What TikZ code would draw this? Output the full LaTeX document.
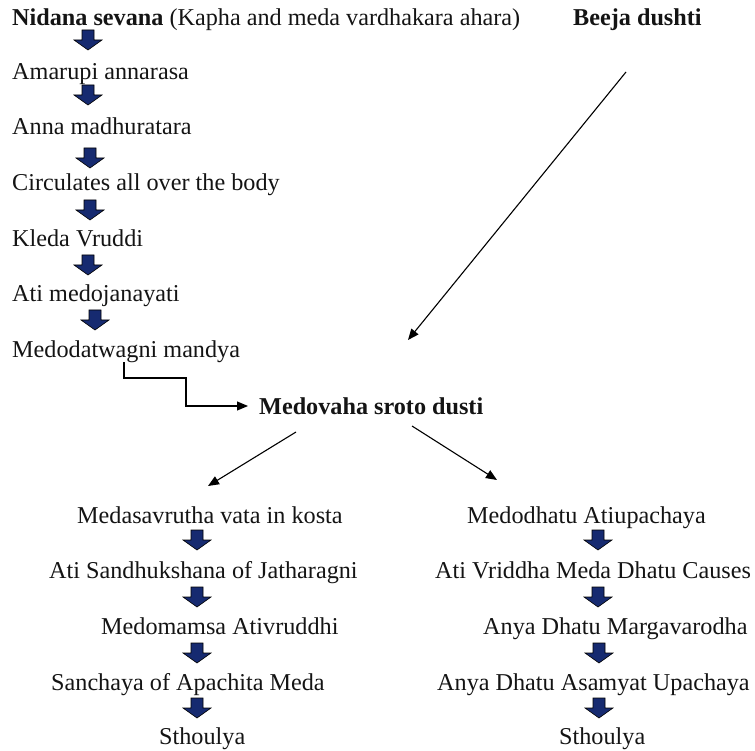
\documentclass[tikz,border=0pt]{standalone}
\usepackage{fontspec}
\setmainfont{Liberation Serif}
\usetikzlibrary{arrows.meta}
\definecolor{navyfill}{RGB}{22,42,112}
\definecolor{txt}{RGB}{20,20,20}
\tikzset{
  lbl/.style={anchor=base west, inner sep=0pt, text=txt, font=\fontsize{24.2}{28}\selectfont},
  blbl/.style={lbl, font=\fontsize{24.2}{28}\selectfont\bfseries},
  conn/.style={draw=black, line width=1.1pt, -{Triangle[length=11pt,width=9pt]}},
  blockarrow/.pic={\filldraw[fill=navyfill, draw=black, line width=0.6pt]
     (-6,-10) -- (6,-10) -- (6,0) -- (14,0) -- (0,10) -- (-14,0) -- (-6,0) -- cycle;}
}
\begin{document}
\begin{tikzpicture}[x=1pt,y=-1pt]
\useasboundingbox (0,0) rectangle (755,751);
% left chain
\node[lbl] (n1) at (12,26) {\textbf{Nidana sevana} (Kapha and meda vardhakara ahara)};
\node[blbl] (beeja) at (573,26) {Beeja dushti};
\node[lbl] (n2) at (12,80) {Amarupi annarasa};
\node[lbl] (n3) at (12,135) {Anna madhuratara};
\node[lbl] (n4) at (12,191) {Circulates all over the body};
\node[lbl] (n5) at (12,247) {Kleda Vruddi};
\node[lbl] (n6) at (12,302) {Ati medojanayati};
\node[lbl] (n7) at (12,357) {Medodatwagni mandya};
\pic at (88,40) {blockarrow};
\pic at (88,95) {blockarrow};
\pic at (90,158) {blockarrow};
\pic at (90,210) {blockarrow};
\pic at (88,265) {blockarrow};
\pic at (95,320) {blockarrow};
% centre
\node[blbl] (mv) at (259,414) {Medovaha sroto dusti};
\coordinate (e0) at (124,362);
\draw[conn] (e0) -- (124,378) -- (186,378) -- (186,406) -- ([xshift=-11pt]mv.west |- 0,406);
\coordinate (b0) at (626,72);
\coordinate (b1) at (408,340);
\draw[conn] (b0) -- (b1);
\coordinate (l0) at (296,432);
\coordinate (l1) at (208,486);
\draw[conn] (l0) -- (l1);
\coordinate (r0) at (412,426);
\coordinate (r1) at (497,480);
\draw[conn] (r0) -- (r1);
% left column
\node[lbl] (a1) at (77,523) {Medasavrutha vata in kosta};
\node[lbl] (a2) at (49,578) {Ati Sandhukshana of Jatharagni};
\node[lbl] (a3) at (101,634) {Medomamsa Ativruddhi};
\node[lbl] (a4) at (51,690) {Sanchaya of Apachita Meda};
\node[lbl] (a5) at (159,744) {Sthoulya};
\pic at (197,540) {blockarrow};
\pic at (197,597) {blockarrow};
\pic at (197,653) {blockarrow};
\pic at (197,708) {blockarrow};
% right column
\node[lbl] (c1) at (467,523) {Medodhatu Atiupachaya};
\node[lbl] (c2) at (435,578) {Ati Vriddha Meda Dhatu Causes};
\node[lbl] (c3) at (483,634) {Anya Dhatu Margavarodha};
\node[lbl] (c4) at (437,690) {Anya Dhatu Asamyat Upachaya};
\node[lbl] (c5) at (559,744) {Sthoulya};
\pic at (598,540) {blockarrow};
\pic at (598,597) {blockarrow};
\pic at (599,653) {blockarrow};
\pic at (599,708) {blockarrow};
\end{tikzpicture}
\end{document}
